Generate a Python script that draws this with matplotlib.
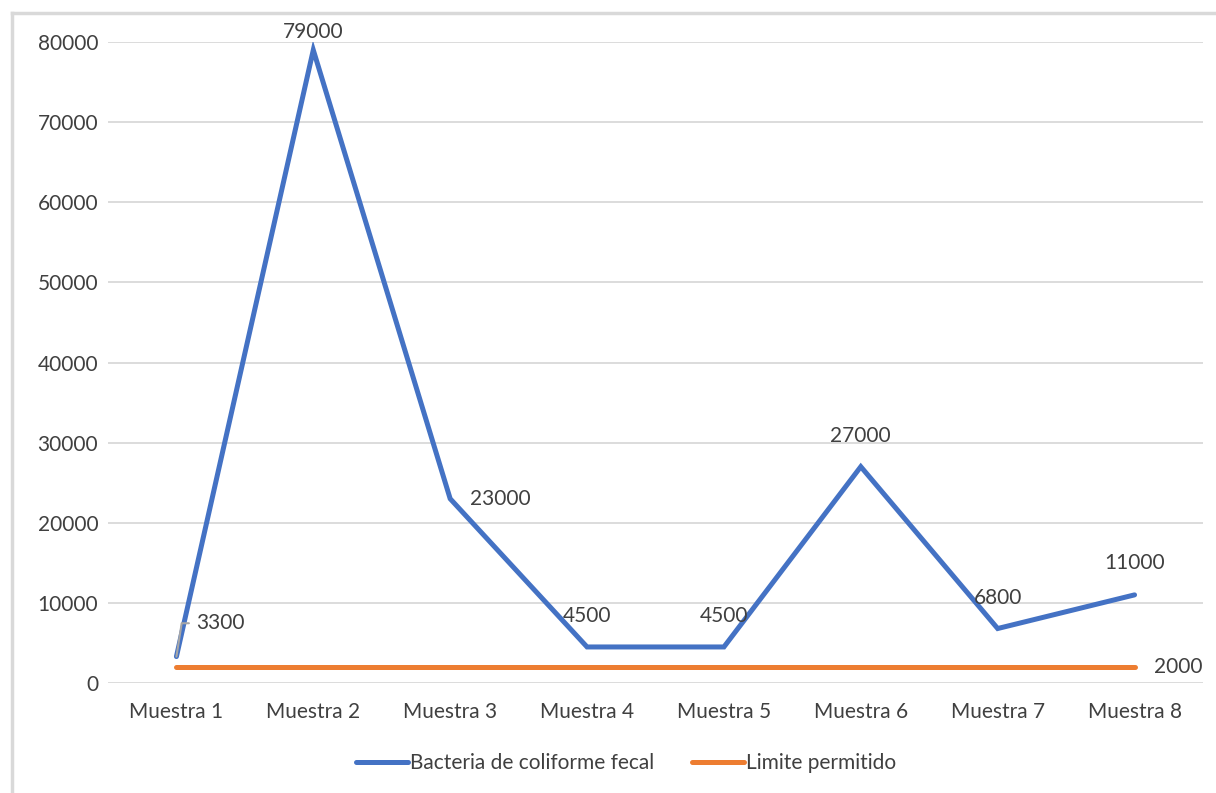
import matplotlib.pyplot as plt
from matplotlib.lines import Line2D

plt.rcParams['font.family'] = ['Lato', 'DejaVu Sans']

muestras = ["Muestra 1", "Muestra 2", "Muestra 3", "Muestra 4",
            "Muestra 5", "Muestra 6", "Muestra 7", "Muestra 8"]
coliformes = [3300, 79000, 23000, 4500, 4500, 27000, 6800, 11000]
limite = [2000, 2000, 2000, 2000, 2000, 2000, 2000, 2000]

azul = "#4472C4"
naranja = "#ED7D31"
texto = "#404040"
fs = 15

fig = plt.figure(figsize=(12.16, 7.93), dpi=100)
ax = fig.add_axes([0.0888, 0.1387, 0.9005, 0.8083])

x = list(range(len(muestras)))
ax.plot(x, coliformes, color=azul, lw=3.6, solid_capstyle="round",
        solid_joinstyle="miter", label="Bacteria de coliforme fecal", zorder=3)
ax.plot(x, limite, color=naranja, lw=3.6, solid_capstyle="round",
        label="Limite permitido", zorder=3)

ax.set_xlim(-0.5, len(muestras) - 0.5)
ax.set_ylim(0, 80000)
ax.set_yticks(range(0, 80001, 10000))
ax.set_xticks(x)
ax.set_xticklabels(muestras)
ax.tick_params(axis="both", length=0, labelsize=fs, colors=texto)
ax.tick_params(axis="x", pad=14)
ax.tick_params(axis="y", pad=7)
ax.grid(axis="y", color="#D9D9D9", lw=1.3)
ax.set_axisbelow(True)
for s in ax.spines.values():
    s.set_visible(False)

# etiquetas de datos (desplazamiento en puntos respecto al valor)
offsets = {1: (0, 13, "center"),
           2: (14, 0, "left"),
           3: (0, 22, "center"),
           4: (0, 22, "center"),
           5: (0, 22, "center"),
           6: (0, 22, "center"),
           7: (0, 23, "center")}
for i, v in enumerate(coliformes):
    if i == 0:
        ax.annotate(str(v), (i, v), xytext=(14, 24), textcoords="offset points",
                    ha="left", va="center", fontsize=fs, color=texto,
                    arrowprops=dict(arrowstyle="-", color="#A6A6A6", lw=1.5,
                                    shrinkA=3, shrinkB=0, relpos=(0, 0.5),
                                    connectionstyle="angle,angleA=0,angleB=81"))
        continue
    dx, dy, ha = offsets[i]
    ax.annotate(str(v), (i, v), xytext=(dx, dy), textcoords="offset points",
                ha=ha, va="center", fontsize=fs, color=texto)
ax.annotate(str(limite[-1]), (x[-1], limite[-1]), xytext=(14, 0),
            textcoords="offset points", ha="left", va="center",
            fontsize=fs, color=texto, annotation_clip=False)

handles = [Line2D([], [], color=azul, lw=3.6, solid_capstyle="round"),
           Line2D([], [], color=naranja, lw=3.6, solid_capstyle="round")]
fig.legend(handles, ["Bacteria de coliforme fecal", "Limite permitido"],
           loc="center", bbox_to_anchor=(0.515, 0.038), ncol=2, frameon=False,
           fontsize=fs, handlelength=2.5, handletextpad=0.1, columnspacing=1.8,
           labelcolor=texto)

# marco del gráfico
fig.add_artist(Line2D([0.0099, 0.0099], [0, 0.9836], color="#D9D9D9", lw=2.5,
                      transform=fig.transFigure))
fig.add_artist(Line2D([0.0099, 1], [0.9836, 0.9836], color="#D9D9D9", lw=2.5,
                      transform=fig.transFigure))

fig.savefig("out.png", dpi=100)
plt.close()
